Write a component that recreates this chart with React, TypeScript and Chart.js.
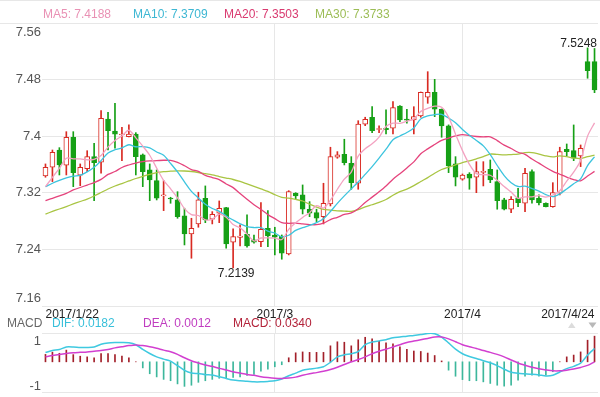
import React, { useEffect, useRef } from 'react';
import { Chart, registerables } from 'chart.js';

Chart.register(...registerables);

const FONT = "'Liberation Sans', Arial, Helvetica, sans-serif";

// date axis labels (index of candle -> text)
const dateTickIndex = [0, 33, 60, 79];
const dateTickText = ['2017/1/22', '2017/3', '2017/4', '2017/4/24'];

// price axis ticks
const yTicks = [7.16, 7.24, 7.32, 7.4, 7.48, 7.56];
// MACD axis ticks
const macdTicks = [1, -1];

const open = [
  7.3438, 7.3561, 7.3805, 7.3589, 7.3985, 7.3448, 7.3541, 7.3711, 7.3632, 7.4243,
  7.4074, 7.4017, 7.3993, 7.4031, 7.3735, 7.3523, 7.3372, 7.3156, 7.3127, 7.3099,
  7.2873, 7.2619, 7.276, 7.3123, 7.2826, 7.2911, 7.299, 7.2501, 7.257, 7.2614,
  7.2534, 7.251, 7.2699, 7.2604, 7.2589, 7.2336, 7.3194, 7.317, 7.2968, 7.292,
  7.2863, 7.3042, 7.3702, 7.3745, 7.3618, 7.3335, 7.4169, 7.4268, 7.4095, 7.4112,
  7.4112, 7.4427, 7.4243, 7.4229, 7.4286, 7.455, 7.4621, 7.4381, 7.4145, 7.3608,
  7.3392, 7.3466, 7.342, 7.3489, 7.3533, 7.3358, 7.3099, 7.2968, 7.3123, 7.3052,
  7.3499, 7.3123, 7.3052, 7.3005, 7.3194, 7.3815, 7.3795, 7.3721, 7.5053, 7.5053,
];
const close = [
  7.3561, 7.3773, 7.3594, 7.3985, 7.3485, 7.3561, 7.3711, 7.3626, 7.4253, 7.4078,
  7.4027, 7.4031, 7.4031, 7.3711, 7.3499, 7.3382, 7.3123, 7.3166, 7.3113, 7.2863,
  7.2619, 7.2699, 7.3099, 7.2817, 7.2897, 7.2982, 7.2477, 7.258, 7.259, 7.2449,
  7.2501, 7.2685, 7.2589, 7.2572, 7.2346, 7.3216, 7.3156, 7.2968, 7.2911, 7.284,
  7.3052, 7.3711, 7.3735, 7.3626, 7.3343, 7.4173, 7.4239, 7.4078, 7.4109, 7.4092,
  7.4403, 7.4229, 7.4225, 7.4276, 7.4621, 7.4621, 7.4381, 7.4145, 7.358, 7.342,
  7.3452, 7.3406, 7.3499, 7.3503, 7.3382, 7.3089, 7.2968, 7.3109, 7.3061, 7.3476,
  7.3099, 7.3061, 7.3005, 7.3202, 7.3782, 7.3782, 7.3688, 7.3827, 7.4926, 7.4653,
];
const high = [
  7.3608, 7.3805, 7.3838, 7.4064, 7.4064, 7.3608, 7.3795, 7.39, 7.4361, 7.4338,
  7.4465, 7.4126, 7.4159, 7.405, 7.3749, 7.3608, 7.3523, 7.3372, 7.3137, 7.3216,
  7.2982, 7.284, 7.3208, 7.3297, 7.2934, 7.3085, 7.2995, 7.2689, 7.2746, 7.2887,
  7.2604, 7.3061, 7.2948, 7.2713, 7.2604, 7.323, 7.3202, 7.3311, 7.3075, 7.2968,
  7.3335, 7.3844, 7.3782, 7.3957, 7.3711, 7.4219, 7.4268, 7.4417, 7.4145, 7.4371,
  7.4488, 7.4432, 7.4381, 7.4417, 7.4625, 7.4912, 7.4804, 7.4385, 7.416, 7.3711,
  7.3466, 7.3485, 7.364, 7.364, 7.3664, 7.3523, 7.3123, 7.3146, 7.3264, 7.3547,
  7.3523, 7.317, 7.3058, 7.3343, 7.3844, 7.389, 7.4159, 7.3876, 7.5248, 7.524,
];
const low = [
  7.342, 7.3358, 7.3452, 7.3452, 7.3287, 7.3301, 7.3499, 7.3089, 7.3476, 7.3805,
  7.383, 7.3654, 7.399, 7.3452, 7.3287, 7.3089, 7.3099, 7.2948, 7.3052, 7.284,
  7.2463, 7.2275, 7.2713, 7.2778, 7.276, 7.2778, 7.2417, 7.2139, 7.2449, 7.2431,
  7.2487, 7.2439, 7.2439, 7.2322, 7.2261, 7.2322, 7.3109, 7.2901, 7.2863, 7.2793,
  7.276, 7.3014, 7.3688, 7.3594, 7.325, 7.325, 7.4149, 7.405, 7.405, 7.4032,
  7.4032, 7.4205, 7.4183, 7.4032, 7.4268, 7.4465, 7.4276, 7.3985, 7.3485, 7.3297,
  7.3378, 7.325, 7.3202, 7.3297, 7.3343, 7.2968, 7.2958, 7.292, 7.3005, 7.2934,
  7.3052, 7.3028, 7.3, 7.2996, 7.317, 7.3721, 7.3654, 7.357, 7.4819, 7.4615,
];

const ma5 = [
  7.3286, 7.3419, 7.3546, 7.3688, 7.368, 7.368, 7.3667, 7.3674, 7.3727, 7.3846,
  7.3939, 7.4003, 7.4084, 7.3976, 7.386, 7.3731, 7.3549, 7.3376, 7.3257, 7.3129,
  7.2977, 7.2892, 7.2879, 7.2819, 7.2826, 7.2899, 7.2854, 7.2751, 7.2705, 7.2616,
  7.2519, 7.2561, 7.2563, 7.2559, 7.2539, 7.2682, 7.2776, 7.2852, 7.2919, 7.3018,
  7.2985, 7.3096, 7.325, 7.3393, 7.3493, 7.3718, 7.3823, 7.3892, 7.3988, 7.4138,
  7.4184, 7.4182, 7.4212, 7.4245, 7.4351, 7.4394, 7.4425, 7.4409, 7.427, 7.4029,
  7.3796, 7.3601, 7.3471, 7.3456, 7.3448, 7.3376, 7.3288, 7.321, 7.3122, 7.3141,
  7.3143, 7.3161, 7.314, 7.3169, 7.323, 7.3366, 7.3492, 7.3656, 7.4001, 7.4188,
];
const ma10 = [
  7.3286, 7.3335, 7.3375, 7.341, 7.3435, 7.3448, 7.3495, 7.356, 7.3655, 7.3763,
  7.3809, 7.3835, 7.3879, 7.3851, 7.3853, 7.3835, 7.3776, 7.373, 7.3616, 7.3495,
  7.3354, 7.3221, 7.3127, 7.3038, 7.2978, 7.2938, 7.2873, 7.2815, 7.2762, 7.2721,
  7.2709, 7.2708, 7.2657, 7.2632, 7.2577, 7.26, 7.2668, 7.2707, 7.2739, 7.2778,
  7.2834, 7.2936, 7.3051, 7.3156, 7.3256, 7.3352, 7.346, 7.3571, 7.3691, 7.3816,
  7.3951, 7.4003, 7.4052, 7.4117, 7.4245, 7.4289, 7.4304, 7.431, 7.4257, 7.419,
  7.4095, 7.4013, 7.394, 7.3863, 7.3739, 7.3586, 7.3444, 7.3341, 7.3289, 7.3295,
  7.3259, 7.3225, 7.3175, 7.3145, 7.3185, 7.3255, 7.3327, 7.3398, 7.3585, 7.3709,
];
const ma20 = [
  7.3089, 7.312, 7.3155, 7.3193, 7.324, 7.3275, 7.331, 7.3345, 7.339, 7.346,
  7.3501, 7.3558, 7.3593, 7.3621, 7.364, 7.365, 7.3654, 7.366, 7.3657, 7.3629,
  7.3582, 7.3528, 7.3503, 7.3445, 7.3416, 7.3387, 7.3325, 7.3273, 7.3189, 7.3108,
  7.3032, 7.2965, 7.2892, 7.2835, 7.2778, 7.2769, 7.2771, 7.2761, 7.2751, 7.275,
  7.2772, 7.2822, 7.2854, 7.2894, 7.2917, 7.2976, 7.3064, 7.3139, 7.3215, 7.3297,
  7.3393, 7.347, 7.3552, 7.3637, 7.3751, 7.3821, 7.3882, 7.3941, 7.3974, 7.4003,
  7.4023, 7.4008, 7.3996, 7.399, 7.3992, 7.3938, 7.3874, 7.3826, 7.3773, 7.3743,
  7.3677, 7.3619, 7.3558, 7.3504, 7.3462, 7.3421, 7.3386, 7.337, 7.3437, 7.3503,
];
const ma30 = [
  7.29, 7.2936, 7.2971, 7.3006, 7.3042, 7.3077, 7.3112, 7.3155, 7.3204, 7.3254,
  7.3296, 7.3331, 7.3367, 7.3402, 7.3433, 7.3461, 7.3484, 7.3498, 7.3505, 7.3511,
  7.3508, 7.3501, 7.3487, 7.347, 7.3452, 7.343, 7.3409, 7.3388, 7.336, 7.3326,
  7.3291, 7.3255, 7.3221, 7.3174, 7.3136, 7.3124, 7.3106, 7.3084, 7.3039, 7.2998,
  7.2966, 7.2955, 7.2945, 7.2942, 7.2937, 7.2963, 7.3, 7.3031, 7.3064, 7.3105,
  7.3165, 7.3216, 7.3253, 7.3302, 7.3359, 7.3414, 7.3477, 7.3529, 7.3562, 7.3595,
  7.3627, 7.3651, 7.3681, 7.3712, 7.3747, 7.3742, 7.3736, 7.3741, 7.3746, 7.3767,
  7.3768, 7.3747, 7.3722, 7.3708, 7.3723, 7.371, 7.3692, 7.3683, 7.371, 7.3733,
];

const dif = [
  0.41, 0.5, 0.55, 0.66, 0.66, 0.64, 0.64, 0.66, 0.78, 0.84,
  0.86, 0.86, 0.85, 0.76, 0.55, 0.37, 0.22, 0.12, 0.03, -0.17,
  -0.38, -0.5, -0.52, -0.57, -0.59, -0.66, -0.74, -0.81, -0.84, -0.86,
  -0.89, -0.89, -0.87, -0.84, -0.76, -0.62, -0.5, -0.37, -0.32, -0.28,
  -0.22, -0.02, 0.22, 0.31, 0.36, 0.45, 0.76, 0.88, 0.93, 0.98,
  1.07, 1.1, 1.14, 1.17, 1.21, 1.26, 1.25, 1.1, 0.84, 0.56,
  0.36, 0.24, 0.15, 0.05, -0.04, -0.17, -0.33, -0.46, -0.51, -0.53,
  -0.55, -0.58, -0.63, -0.6, -0.45, -0.3, -0.2, -0.06, 0.3, 0.59,
];
const dea = [
  0.22, 0.28, 0.33, 0.37, 0.4, 0.42, 0.44, 0.47, 0.5, 0.55,
  0.62, 0.67, 0.72, 0.75, 0.72, 0.67, 0.6, 0.52, 0.45, 0.33,
  0.18, 0.05, -0.05, -0.14, -0.2, -0.29, -0.36, -0.44, -0.5, -0.56,
  -0.6, -0.66, -0.7, -0.73, -0.74, -0.72, -0.68, -0.6, -0.53, -0.48,
  -0.42, -0.34, -0.24, -0.12, 0.0, 0.1, 0.22, 0.36, 0.47, 0.56,
  0.66, 0.76, 0.86, 0.92, 0.98, 1.04, 1.1, 1.1, 1.02, 0.89,
  0.76, 0.67, 0.59, 0.5, 0.42, 0.33, 0.22, 0.08, -0.05, -0.15,
  -0.24, -0.31, -0.36, -0.4, -0.4, -0.37, -0.32, -0.25, -0.16, 0.0,
];
const macdHist = [
  0.33, 0.43, 0.38, 0.52, 0.32, 0.25, 0.22, 0.18, 0.37, 0.37,
  0.32, 0.25, 0.18, 0.0, -0.27, -0.53, -0.67, -0.78, -0.84, -0.98,
  -1.09, -1.04, -0.91, -0.84, -0.78, -0.73, -0.71, -0.69, -0.67, -0.6,
  -0.56, -0.42, -0.33, -0.22, -0.13, 0.18, 0.4, 0.44, 0.42, 0.42,
  0.42, 0.71, 0.89, 0.87, 0.71, 0.98, 1.09, 1.02, 0.91, 0.84,
  0.8, 0.67, 0.55, 0.48, 0.46, 0.39, 0.28, 0.04, -0.37, -0.64,
  -0.79, -0.84, -0.84, -0.89, -0.96, -1.04, -1.08, -1.04, -0.81, -0.64,
  -0.59, -0.64, -0.59, -0.44, 0.0, 0.22, 0.3, 0.44, 0.96, 1.14,
];

const maNames = ['MA5', 'MA10', 'MA20', 'MA30'];
const macdNames = ['DIF', 'DEA', 'MACD'];
const macdLegendValues = ['0.0182', '0.0012', '0.0340'];

const UP = '#d92a22';
const DOWN = '#16a016';
const MA_LINE = ['#f3a2c1', '#3cc4de', '#e5437c', '#a9c543'];
const MA_TEXT = ['#e991b4', '#3db7d3', '#d93a70', '#9cbd56'];
const MACD_TEXT = ['#39c0da', '#c03cc0', '#b3233a'];
const GRID = '#e7e7e7';

const categories = close.map((_, i) => {
  const k = dateTickIndex.indexOf(i);
  return k >= 0 ? dateTickText[k] : '';
});
const innerDateIdx = dateTickIndex.slice(1, -1);
const isUp = close.map((c, i) => c >= open[i]);

const gridColor = (ctx: any) => (innerDateIdx.includes(ctx.index) ? GRID : 'rgba(0,0,0,0)');

const mainDecor = {
  id: 'mainDecor',
  afterDraw(chart: any) {
    const { ctx, chartArea, scales } = chart;
    const ys = scales.y;
    const xs = scales.x;
    ctx.save();
    ctx.strokeStyle = GRID;
    ctx.lineWidth = 1;
    const yTop = Math.round(ys.getPixelForValue(yTicks[yTicks.length - 1])) + 0.5;
    ctx.beginPath();
    ctx.moveTo(0, yTop);
    ctx.lineTo(chartArea.left, yTop);
    ctx.stroke();
    ctx.beginPath();
    ctx.moveTo(0, 0.5);
    ctx.lineTo(600, 0.5);
    ctx.stroke();

    // price labels
    ctx.font = `13px ${FONT}`;
    ctx.fillStyle = '#555';
    ctx.textAlign = 'right';
    ctx.textBaseline = 'middle';
    yTicks.forEach((v) => {
      let py = ys.getPixelForValue(v);
      if (py < chartArea.top + 8) py = chartArea.top + 9;
      if (py > chartArea.bottom - 8) py = chartArea.bottom - 8;
      ctx.fillText(String(v), 41, py);
    });

    // MA legend
    const maArr = [ma5, ma10, ma20, ma30];
    const lx = [43, 133, 224, 315];
    ctx.font = `12px ${FONT}`;
    ctx.textAlign = 'left';
    maNames.forEach((n, k) => {
      ctx.fillStyle = MA_TEXT[k];
      ctx.fillText(`${n}: ${maArr[k][maArr[k].length - 1].toFixed(4)}`, lx[k], 15);
    });

    // extremes
    let hi = 0;
    let lo = 0;
    high.forEach((v, i) => { if (v > high[hi]) hi = i; });
    low.forEach((v, i) => { if (v < low[lo]) lo = i; });
    ctx.fillStyle = '#222';
    const hx = xs.getPixelForValue(hi);
    const hy = ys.getPixelForValue(high[hi]);
    ctx.textBaseline = 'alphabetic';
    if (hx + 25 > chartArea.right) {
      ctx.textAlign = 'right';
      ctx.fillText(high[hi].toFixed(4), chartArea.right - 1, hy - 1);
    } else {
      ctx.textAlign = 'center';
      ctx.fillText(high[hi].toFixed(4), hx, hy - 1);
    }
    const lxp = xs.getPixelForValue(lo);
    const lyp = ys.getPixelForValue(low[lo]);
    ctx.textAlign = 'center';
    ctx.textBaseline = 'top';
    ctx.fillText(low[lo].toFixed(4), lxp + 3, lyp);
    ctx.restore();
  },
};

const macdDecor = {
  id: 'macdDecor',
  afterDraw(chart: any) {
    const { ctx, chartArea, scales } = chart;
    const xs = scales.x;
    const ys = scales.y;
    ctx.save();
    ctx.strokeStyle = GRID;
    ctx.lineWidth = 1;
    innerDateIdx.forEach((i) => {
      const px = Math.round(xs.getPixelForValue(i)) + 0.5;
      ctx.beginPath();
      ctx.moveTo(px, 0);
      ctx.lineTo(px, chartArea.top);
      ctx.stroke();
    });
    // legend
    ctx.font = `12px ${FONT}`;
    ctx.textAlign = 'left';
    ctx.textBaseline = 'middle';
    ctx.fillStyle = '#666';
    ctx.fillText('MACD', 7, 6);
    const mx = [52, 143, 233];
    macdNames.forEach((n, k) => {
      ctx.fillStyle = MACD_TEXT[k];
      ctx.fillText(`${n}: ${macdLegendValues[k]}`, mx[k], 6);
    });
    // arrows
    ctx.fillStyle = '#dcdcdc';
    ctx.beginPath();
    ctx.moveTo(568, 10);
    ctx.lineTo(575.5, 10);
    ctx.lineTo(571.7, 4.5);
    ctx.closePath();
    ctx.fill();
    ctx.fillStyle = '#b8b8b8';
    ctx.beginPath();
    ctx.moveTo(588.5, 4.5);
    ctx.lineTo(596.5, 4.5);
    ctx.lineTo(592.5, 10);
    ctx.closePath();
    ctx.fill();
    // y labels
    ctx.font = `13px ${FONT}`;
    ctx.fillStyle = '#555';
    ctx.textAlign = 'right';
    macdTicks.forEach((v) => {
      ctx.fillText(String(v), 41, ys.getPixelForValue(v) + 2.5);
    });
    ctx.restore();
  },
};

export default function App() {
  const mainRef = useRef<HTMLCanvasElement>(null);
  const macdRef = useRef<HTMLCanvasElement>(null);

  useEffect(() => {
    Chart.defaults.font.family = FONT;
    const main = new Chart(mainRef.current as HTMLCanvasElement, {
      type: 'bar',
      data: {
        labels: categories,
        datasets: [
          ...[ma5, ma10, ma20, ma30].map((d, k) => ({
            type: 'line' as const,
            data: d,
            borderColor: MA_LINE[k],
            borderWidth: 1.3,
            pointRadius: 0,
            tension: 0.3,
            fill: false,
            order: 0,
          })),
          {
            type: 'bar' as const,
            data: open.map((o, i) => [o, close[i]]),
            backgroundColor: isUp.map((u) => (u ? '#ffffff' : DOWN)),
            borderColor: isUp.map((u) => (u ? UP : DOWN)),
            borderWidth: 1,
            borderSkipped: false,
            barThickness: 5,
            minBarLength: 1,
            grouped: false,
            order: 1,
          },
          {
            type: 'bar' as const,
            data: low.map((l, i) => [l, high[i]]),
            backgroundColor: isUp.map((u) => (u ? UP : DOWN)),
            borderWidth: 0,
            barThickness: 1,
            grouped: false,
            order: 2,
          },
        ] as any,
      },
      options: {
        responsive: false,
        animation: false,
        events: [],
        layout: { padding: { top: 23, right: 2, left: 0, bottom: 0 } },
        plugins: { legend: { display: false }, tooltip: { enabled: false } },
        scales: {
          x: {
            type: 'category',
            offset: true,
            border: { display: false },
            grid: { offset: false, drawTicks: false, color: gridColor },
            ticks: {
              autoSkip: false,
              maxRotation: 0,
              minRotation: 0,
              align: 'inner',
              padding: 1,
              color: '#222',
              font: { size: 12, family: FONT },
            },
            afterFit: (s: any) => { s.height = 14; },
          },
          y: {
            min: yTicks[0],
            max: yTicks[yTicks.length - 1],
            border: { display: false },
            grid: { color: GRID, drawTicks: false },
            ticks: { display: false },
            afterBuildTicks: (s: any) => { s.ticks = yTicks.map((v) => ({ value: v })); },
            afterFit: (s: any) => { s.width = 42; },
          },
        },
      } as any,
      plugins: [mainDecor],
    });

    const macd = new Chart(macdRef.current as HTMLCanvasElement, {
      type: 'bar',
      data: {
        labels: categories,
        datasets: [
          {
            type: 'line' as const,
            data: dea,
            borderColor: '#d23fd0',
            borderWidth: 1.5,
            pointRadius: 0,
            tension: 0.25,
            order: 0,
          },
          {
            type: 'line' as const,
            data: dif,
            borderColor: '#3fc9e0',
            borderWidth: 1.5,
            pointRadius: 0,
            tension: 0.25,
            order: 1,
          },
          {
            type: 'bar' as const,
            data: macdHist,
            backgroundColor: macdHist.map((v) => (v >= 0 ? '#a3202a' : '#3db79c')),
            barThickness: 1,
            grouped: false,
            order: 2,
          },
        ] as any,
      },
      options: {
        responsive: false,
        animation: false,
        events: [],
        layout: { padding: { top: 15, right: 2, left: 0, bottom: 5 } },
        plugins: { legend: { display: false }, tooltip: { enabled: false } },
        scales: {
          x: {
            type: 'category',
            offset: true,
            border: { display: false },
            grid: { offset: false, drawTicks: false, color: gridColor },
            ticks: { display: false },
            afterFit: (s: any) => { s.height = 0; },
          },
          y: {
            min: -1.34,
            max: 1.28,
            border: { display: false },
            grid: { color: GRID, drawTicks: false },
            ticks: { display: false },
            afterBuildTicks: (s: any) => { s.ticks = [{ value: -1.34 }, { value: 1.28 }]; },
            afterFit: (s: any) => { s.width = 42; },
          },
        },
      } as any,
      plugins: [macdDecor],
    });

    return () => {
      main.destroy();
      macd.destroy();
    };
  }, []);

  return (
    <div style={{ position: 'fixed', left: 0, top: 0, width: 600, height: 397, background: '#fff' }}>
      <canvas
        ref={mainRef}
        width={600}
        height={320}
        style={{ position: 'absolute', left: 0, top: 0, width: 600, height: 320 }}
      />
      <canvas
        ref={macdRef}
        width={600}
        height={79}
        style={{ position: 'absolute', left: 0, top: 318, width: 600, height: 79 }}
      />
    </div>
  );
}
